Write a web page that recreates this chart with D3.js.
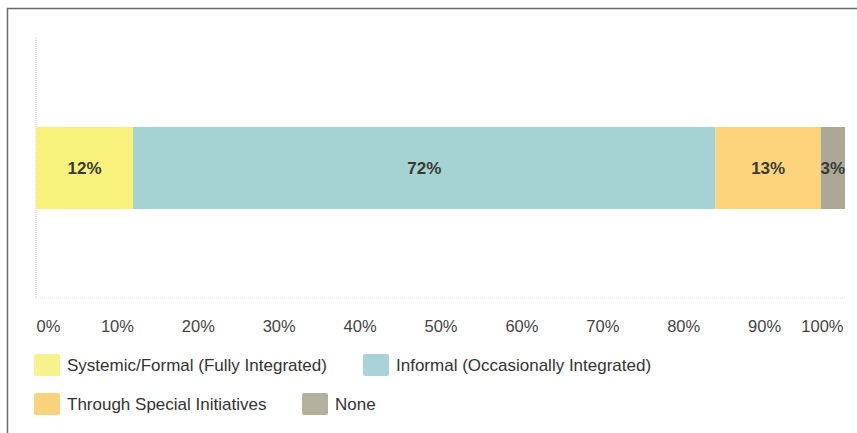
<!DOCTYPE html>
<html>
<head>
<meta charset="utf-8">
<script src="https://cdn.jsdelivr.net/npm/d3@7"></script>
<style>
  body { margin: 0; background: #fff; }
  svg text { font-family: "Liberation Sans", Arial, sans-serif; }
</style>
</head>
<body>
<div id="chart"></div>
<script>
'use strict';

const width = 857,
    height = 433,
    margin = {top: 38, right: 12, bottom: 135, left: 36};

// data
const categories = ["Systemic/Formal (Fully Integrated)", "Informal (Occasionally Integrated)",
                    "Through Special Initiatives", "None"];
const values = [12, 72, 13, 3];
const colors = ["#f8f27c", "#a5d2d3", "#fdd47c", "#aca897"];
const swatchColors = ["#f6f38f", "#a9d3d8", "#f9d27e", "#b3b09e"];
const tickValues = [0, 10, 20, 30, 40, 50, 60, 70, 80, 90, 100];

const svg = d3.select("#chart")
    .append("svg")
    .attr("width", width)
    .attr("height", height);

// outer frame (only top and left show in the picture)
svg.append("path")
    .attr("d", "M7.5,440 V8.5 H870")
    .attr("fill", "none")
    .attr("stroke", "#6a6a6a")
    .attr("stroke-width", 1.5);

const xScale = d3.scaleLinear()
    .domain([0, 100])
    .range([margin.left, width - margin.right]);

const yScale = d3.scaleBand()
    .domain(["row"])
    .range([margin.top, height - margin.bottom])
    .paddingInner(0)
    .paddingOuter(1.085);

const plotBottom = height - margin.bottom;

// faint dotted frame of the plot
svg.append("line")
    .attr("x1", margin.left).attr("x2", margin.left)
    .attr("y1", margin.top).attr("y2", plotBottom)
    .attr("stroke", "#c8c8c8")
    .attr("stroke-dasharray", "1,1");
svg.append("line")
    .attr("x1", margin.left).attr("x2", width - margin.right)
    .attr("y1", plotBottom).attr("y2", plotBottom)
    .attr("stroke", "#e0e0e0")
    .attr("stroke-dasharray", "1,1");

// stack
let acc = 0;
const stacked = values.map((v, i) => {
    const d = {key: categories[i], value: v, x0: acc, x1: acc + v, color: colors[i]};
    acc += v;
    return d;
});

const bars = svg.append("g").attr("class", "bars");
bars.selectAll("rect")
    .data(stacked)
    .join("rect")
    .attr("x", d => xScale(d.x0))
    .attr("width", d => xScale(d.x1) - xScale(d.x0))
    .attr("y", yScale("row"))
    .attr("height", yScale.bandwidth())
    .attr("fill", d => d.color);

bars.selectAll("text")
    .data(stacked)
    .join("text")
    .attr("x", d => (xScale(d.x0) + xScale(d.x1)) / 2)
    .attr("y", yScale("row") + yScale.bandwidth() / 2)
    .attr("dy", "0.35em")
    .attr("text-anchor", "middle")
    .attr("font-size", 17)
    .attr("font-weight", "bold")
    .attr("fill", "#3a3a32")
    .text(d => d.value + "%");

// x axis labels only
const xAxis = d3.axisBottom(xScale)
    .tickValues(tickValues)
    .tickFormat(d => d + "%")
    .tickSize(0)
    .tickPadding(0);

const axisG = svg.append("g")
    .attr("class", "axis x-axis")
    .attr("transform", `translate(0, ${plotBottom + 22})`)
    .call(xAxis);
axisG.select(".domain").remove();
axisG.selectAll("text")
    .attr("font-size", 16.5)
    .attr("fill", "#444")
    .attr("font-family", "\"Liberation Sans\", Arial, sans-serif");
axisG.selectAll(".tick").filter(d => d === 0).select("text").attr("text-anchor", "start");
axisG.selectAll(".tick").filter(d => d === 100).select("text")
    .attr("text-anchor", "end").attr("x", -2);

// legend
const legendPos = [
    {x: 34, y: 354}, {x: 363, y: 354},
    {x: 34, y: 393}, {x: 302, y: 393}
];
const legend = svg.append("g").attr("class", "legend")
    .selectAll("g")
    .data(categories)
    .join("g")
    .attr("transform", (d, i) => `translate(${legendPos[i].x}, ${legendPos[i].y})`);

legend.append("rect")
    .attr("width", 26)
    .attr("height", 22)
    .attr("rx", 2)
    .attr("fill", (d, i) => swatchColors[i]);

legend.append("text")
    .attr("x", 33)
    .attr("y", 11)
    .attr("dy", "0.35em")
    .attr("font-size", 17)
    .attr("fill", "#333")
    .text(d => d);
</script>
</body>
</html>
